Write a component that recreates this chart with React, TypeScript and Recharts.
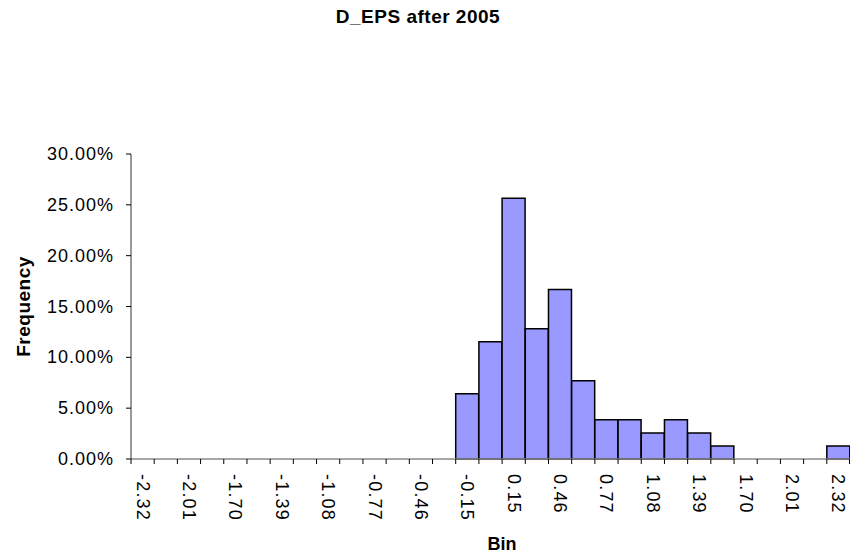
import React from "react";
import { BarChart, Bar, XAxis, YAxis, Label } from "recharts";

// bins (upper edges) and share of observations per bin
const bins = [
  "-2.32", "-2.17", "-2.01", "-1.86", "-1.70", "-1.55", "-1.39", "-1.24",
  "-1.08", "-0.93", "-0.77", "-0.62", "-0.46", "-0.31", "-0.15", "0.00",
  "0.15", "0.31", "0.46", "0.62", "0.77", "0.93", "1.08", "1.24",
  "1.39", "1.55", "1.70", "1.86", "2.01", "2.17", "2.32",
];

const freq = [
  0, 0, 0, 0, 0, 0, 0, 0,
  0, 0, 0, 0, 0, 0, 0.0641, 0.1154,
  0.2564, 0.1282, 0.1667, 0.0769, 0.0385, 0.0385, 0.0256, 0.0385,
  0.0256, 0.0128, 0, 0, 0, 0, 0.0128,
];

const yTicks = [0, 0.05, 0.1, 0.15, 0.2, 0.25, 0.3];

const data = bins.map((b, i) => ({ bin: b, freq: freq[i] }));

const FONT = "'Liberation Sans', Arial, sans-serif";

const XTick = (props: any) => {
  const { x, y, payload, index } = props;
  const half = payload?.offset ?? 11.6;
  const i = payload?.index ?? index;
  return (
    <g>
      <line x1={x - half} y1={y} x2={x - half} y2={y + 5} stroke="#000" />
      {i === bins.length - 1 && (
        <line x1={x + half - 0.5} y1={y} x2={x + half - 0.5} y2={y + 5} stroke="#000" />
      )}
      {i % 2 === 0 && (
        <text
          x={x}
          y={y + 15}
          transform={`rotate(90, ${x}, ${y + 15})`}
          textAnchor="start"
          dominantBaseline="central"
          fontFamily={FONT}
          fontSize={18}
          letterSpacing={1.2}
          fill="#000"
        >
          {payload.value}
        </text>
      )}
    </g>
  );
};

const YTick = (props: any) => {
  const { x, y, payload } = props;
  return (
    <g>
      <line x1={x - 5} y1={y} x2={x} y2={y} stroke="#000" />
      <text
        x={x - 17}
        y={y}
        textAnchor="end"
        dominantBaseline="central"
        fontFamily={FONT}
        fontSize={18}
        letterSpacing={1}
        fill="#000"
      >
        {(payload.value * 100).toFixed(2) + "%"}
      </text>
    </g>
  );
};

const FreqLabel = (props: any) => {
  const vb = props.viewBox || {};
  const cy = vb.y + vb.height / 2;
  return (
    <text
      x={23}
      y={cy}
      transform={`rotate(-90, 23, ${cy})`}
      textAnchor="middle"
      dominantBaseline="central"
      fontFamily={FONT}
      fontWeight="bold"
      fontSize={19}
      letterSpacing={0.5}
      fill="#000"
    >
      Frequency
    </text>
  );
};

const BinLabel = () => (
  <text
    x={502}
    y={550}
    textAnchor="middle"
    fontFamily={FONT}
    fontWeight="bold"
    fontSize={18}
    fill="#000"
  >
    Bin
  </text>
);

export default function App() {
  return (
    <div style={{ position: "absolute", left: 0, top: 0, width: 850, height: 554, background: "#fff" }}>
      <div
        style={{
          position: "absolute",
          top: 7,
          left: 0,
          width: 836,
          textAlign: "center",
          fontFamily: FONT,
          fontWeight: "bold",
          fontSize: 19,
          lineHeight: "19px",
          letterSpacing: 0.5,
          color: "#000",
        }}
      >
        D_EPS after 2005
      </div>
      <BarChart
        width={850}
        height={554}
        data={data}
        margin={{ top: 154, right: 0, bottom: 0, left: 0 }}
        barCategoryGap={0}
      >
        <XAxis
          dataKey="bin"
          interval={0}
          height={95}
          tickLine={false}
          tickSize={0}
          tickMargin={0}
          axisLine={{ stroke: "#888", strokeWidth: 1.5 }}
          tick={<XTick />}
        >
          <Label content={<BinLabel />} />
        </XAxis>
        <YAxis
          width={131}
          domain={[0, 0.3]}
          ticks={yTicks}
          interval={0}
          tickLine={false}
          tickSize={0}
          tickMargin={0}
          axisLine={{ stroke: "#333", strokeWidth: 1 }}
          tick={<YTick />}
        >
          <Label content={<FreqLabel />} />
        </YAxis>
        <Bar
          dataKey="freq"
          fill="#9999FF"
          stroke="#000"
          strokeWidth={1.5}
          isAnimationActive={false}
        />
      </BarChart>
    </div>
  );
}
